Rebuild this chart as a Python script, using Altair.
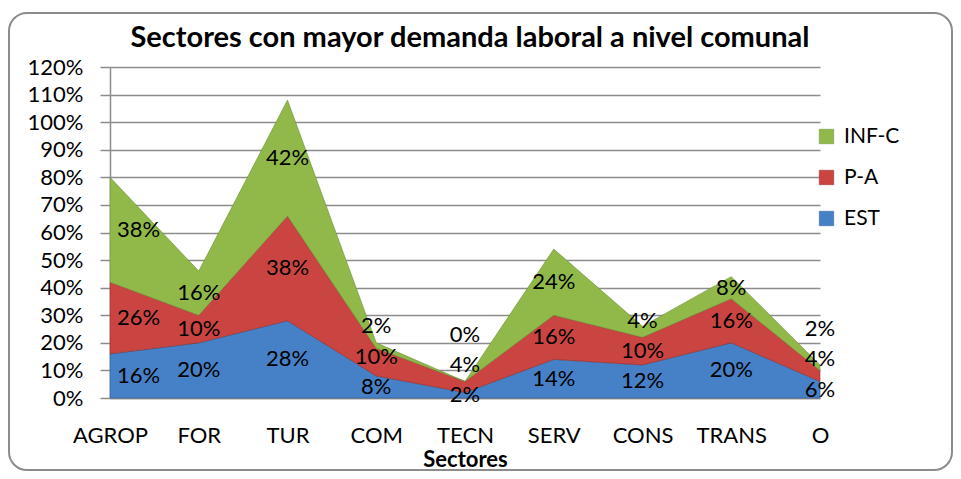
import altair as alt
import pandas as pd

sectors = ["AGROP", "FOR", "TUR", "COM", "TECN", "SERV", "CONS", "TRANS", "O"]
est = [16, 20, 28, 8, 2, 14, 12, 20, 6]
pa = [26, 10, 38, 10, 4, 16, 10, 16, 4]
infc = [38, 16, 42, 2, 0, 24, 4, 8, 2]
series_names = ["EST", "P-A", "INF-C"]
series_colors = {"EST": "#4680C6", "P-A": "#CA4542", "INF-C": "#90B94A"}

# build stacked table (bottom to top: EST, P-A, INF-C)
rows = []
min_gap = 11
for i, s in enumerate(sectors):
    lower = 0
    prev_label = None
    for name, vals in zip(series_names, [est, pa, infc]):
        v = vals[i]
        mid = lower + v / 2
        pos = mid if prev_label is None else max(mid, prev_label + min_gap)
        rows.append({
            "sector": s, "series": name, "value": v,
            "lower": lower, "upper": lower + v,
            "labelpos": pos, "label": f"{v}%",
            "first": i == 0,
        })
        prev_label = pos
        lower += v
df = pd.DataFrame(rows)

grey = "#8c8c8c"
FS = 22

frame = alt.Chart(alt.Data(values=[{"a": 1}])).mark_rect(
    filled=False, stroke=grey, strokeWidth=2, cornerRadius=18
).encode(
    x=alt.value(-101), x2=alt.value(842), y=alt.value(-54), y2=alt.value(403)
)

base = alt.Chart(df)

x_axis = alt.Axis(
    title="Sectores", titleFontSize=22, titleFontWeight="bold", titlePadding=3,
    labelFontSize=FS, labelAngle=0, labelPadding=27, ticks=False, grid=False,
    domainColor=grey, domainWidth=1.5, labelColor="black", titleColor="black",
)
y_axis = alt.Axis(
    title=None, values=list(range(0, 121, 10)), labelExpr="datum.value + '%'",
    labelFontSize=FS, labelPadding=17, tickSize=10, tickColor=grey, tickWidth=1.5,
    grid=True, gridColor=grey, gridWidth=1.5, domainColor=grey, domainWidth=1.5,
    labelColor="black", labelOverlap=False,
)
x_scale = alt.Scale(padding=0)
y_scale = alt.Scale(domain=[0, 120], nice=False)

areas = base.mark_area(strokeWidth=1, strokeOpacity=0.6).encode(
    x=alt.X("sector:N", sort=sectors, scale=x_scale, axis=x_axis),
    y=alt.Y("lower:Q", scale=y_scale, axis=y_axis),
    y2="upper:Q",
    color=alt.Color(
        "series:N",
        scale=alt.Scale(domain=["INF-C", "P-A", "EST"],
                        range=[series_colors["INF-C"], series_colors["P-A"], series_colors["EST"]]),
        legend=alt.Legend(
            title=None, orient="none", legendX=706, legendY=59, symbolType="square",
            symbolSize=210, labelFontSize=21, rowPadding=19, labelOffset=7,
            symbolStrokeColor="#555", symbolStrokeWidth=0.5, labelColor="black",
        ),
    ),
    stroke=alt.Color("series:N", scale=alt.Scale(domain=["INF-C", "P-A", "EST"],
                     range=["#6f8f35", "#8f2f2d", "#2f5f99"]), legend=None),
    detail="series:N",
)

text_first = base.transform_filter("datum.first").mark_text(
    align="left", dx=7, baseline="middle", fontSize=FS, color="black"
).encode(
    x=alt.X("sector:N", sort=sectors, scale=x_scale, axis=x_axis),
    y=alt.Y("labelpos:Q", scale=y_scale, axis=y_axis),
    text="label:N",
)

text_rest = base.transform_filter("!datum.first").mark_text(
    align="center", baseline="middle", fontSize=FS, color="black"
).encode(
    x=alt.X("sector:N", sort=sectors, scale=x_scale, axis=x_axis),
    y=alt.Y("labelpos:Q", scale=y_scale, axis=y_axis),
    text="label:N",
)

chart = alt.layer(frame, areas, text_first, text_rest).properties(
    width=710, height=331,
    title=alt.Title("Sectores con mayor demanda laboral a nivel comunal",
                    fontSize=29, fontWeight="bold", anchor="middle", frame="group",
                    baseline="alphabetic", offset=-64, dx=5, color="black"),
    padding={"left": 102, "top": 59, "right": 133, "bottom": 73},
    autosize=alt.AutoSizeParams(type="none"),
).configure(font="Lato").configure_view(stroke=None)

chart.save("out.html", embed_options={"renderer": "svg", "actions": False})
